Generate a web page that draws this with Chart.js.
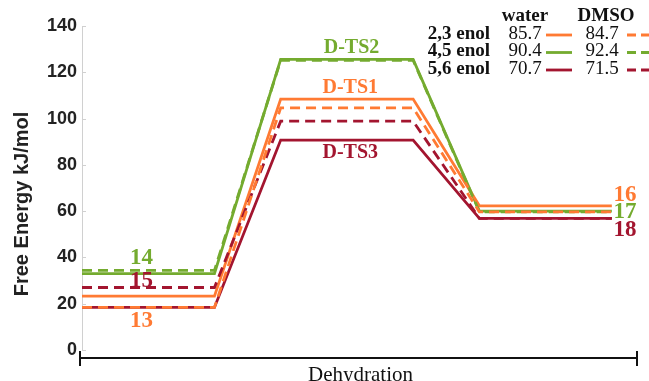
<!DOCTYPE html>
<html>
<head>
<meta charset="utf-8">
<script src="https://cdn.jsdelivr.net/npm/chart.js@4.4.1/dist/chart.umd.min.js"></script>
<style>
  html, body { margin: 0; padding: 0; background: #fff; }
  #wrap { width: 649px; height: 381px; position: relative; }
</style>
</head>
<body>
<div id="wrap"><canvas id="c" width="649" height="381"></canvas></div>
<script>
// ---- data ----
const stageX = [0, 2, 3, 5, 6, 8];            // reaction coordinate: reactant plateau, TS plateau, product plateau
const water23 = [23.3, 108.4, 62.3];          // [reactant, TS, product] kJ/mol
const dmso23  = [18.4, 104.6, 59.7];
const water45 = [33.0, 125.6, 60.0];
const dmso45  = [34.4, 125.2, 59.7];
const water56 = [18.4, 90.7, 56.9];
const dmso56  = [27.0, 98.9, 56.9];
const legendRows = ['2,3 enol', '4,5 enol', '5,6 enol'];
const waterBarriers = ['85.7', '90.4', '70.7'];
const dmsoBarriers  = ['84.7', '92.4', '71.5'];
const yTicks = [0, 20, 40, 60, 80, 100, 120, 140];
const xAxisLabel = 'Dehydration';
const yAxisLabel = 'Free Energy kJ/mol';

const ORANGE = '#ff7a33', GREEN = '#74ab2f', MAROON = '#a3152f';

function profile(levels) {
  const ys = [levels[0], levels[0], levels[1], levels[1], levels[2], levels[2]];
  return stageX.map((x, i) => ({ x: x, y: ys[i] }));
}

const stateLabels = [
  { text: '14', x: 0.9, y: 39.7, color: GREEN },
  { text: '15', x: 0.9, y: 29.6, color: MAROON },
  { text: '13', x: 0.9, y: 12.6, color: ORANGE },
  { text: 'D-TS2', x: 4.07, y: 130.6, color: GREEN },
  { text: 'D-TS1', x: 4.05, y: 113.4, color: ORANGE },
  { text: 'D-TS3', x: 4.05, y: 85.0, color: MAROON },
  { text: '16', x: 8.2, y: 67.0, color: ORANGE },
  { text: '17', x: 8.2, y: 59.7, color: GREEN },
  { text: '18', x: 8.2, y: 51.8, color: MAROON }
];

const W = 2.8, DASH = [10, 6];
function ds(label, levels, color, dashed) {
  return {
    label: label, data: profile(levels), borderColor: color, backgroundColor: color,
    borderWidth: W, borderDash: dashed ? DASH : [], pointRadius: 0, fill: false,
    tension: 0, clip: false, order: dashed ? 0 : 1, borderCapStyle: 'butt', borderJoinStyle: 'miter'
  };
}

const overlay = {
  id: 'overlay',
  afterDraw(chart) {
    const ctx = chart.ctx, xs = chart.scales.x, ys = chart.scales.y, ca = chart.chartArea;
    ctx.save();
    // inward y ticks
    ctx.strokeStyle = '#d0d0d0'; ctx.lineWidth = 1;
    yTicks.forEach(v => {
      const py = Math.round(ys.getPixelForValue(v)) + 0.5;
      ctx.beginPath(); ctx.moveTo(ca.left, py); ctx.lineTo(ca.left + 4, py); ctx.stroke();
    });
    // black x axis with end caps
    const axY = ys.getPixelForValue(0) + 8;
    ctx.strokeStyle = '#111'; ctx.lineWidth = 2;
    ctx.beginPath(); ctx.moveTo(ca.left - 2, axY); ctx.lineTo(ca.right, axY); ctx.stroke();
    ctx.beginPath(); ctx.moveTo(ca.left - 2, axY - 7); ctx.lineTo(ca.left - 2, axY + 8); ctx.stroke();
    ctx.beginPath(); ctx.moveTo(ca.right, axY - 7); ctx.lineTo(ca.right, axY + 8); ctx.stroke();
    ctx.fillStyle = '#111'; ctx.font = '21px "Liberation Serif", "Times New Roman", serif';
    ctx.textAlign = 'center'; ctx.textBaseline = 'alphabetic';
    ctx.fillText(xAxisLabel, (ca.left + ca.right) / 2 + 1, 381);
    // y axis title
    ctx.save();
    ctx.translate(22, 204); ctx.rotate(-Math.PI / 2);
    ctx.fillStyle = '#222'; ctx.font = 'bold 20px "Liberation Sans", Arial, sans-serif';
    ctx.textAlign = 'center'; ctx.textBaseline = 'middle';
    ctx.fillText(yAxisLabel, 0, 0);
    ctx.restore();
    // state labels
    ctx.textAlign = 'center'; ctx.textBaseline = 'middle';
    stateLabels.forEach(l => {
      ctx.fillStyle = l.color;
      ctx.font = (l.text.length > 2 ? 'bold 20px' : 'bold 23px') + ' "Liberation Serif", "Times New Roman", serif';
      ctx.fillText(l.text, xs.getPixelForValue(l.x), ys.getPixelForValue(l.y));
    });
    // legend table
    const colors = [ORANGE, GREEN, MAROON];
    const rowY = [34, 51.5, 69];
    ctx.fillStyle = '#111';
    ctx.font = 'bold 19px "Liberation Serif", "Times New Roman", serif';
    ctx.textAlign = 'center';
    ctx.fillText('water', 525, 16);
    ctx.fillText('DMSO', 606, 16);
    legendRows.forEach((name, i) => {
      const y = rowY[i];
      ctx.fillStyle = '#111';
      ctx.font = 'bold 19px "Liberation Serif", "Times New Roman", serif';
      ctx.textAlign = 'right';
      ctx.fillText(name, 490, y);
      ctx.font = '19px "Liberation Serif", "Times New Roman", serif';
      ctx.textAlign = 'center';
      ctx.fillText(waterBarriers[i], 525, y);
      ctx.fillText(dmsoBarriers[i], 602, y);
      ctx.strokeStyle = colors[i]; ctx.lineWidth = W;
      ctx.setLineDash([]);
      ctx.beginPath(); ctx.moveTo(546, y + 1); ctx.lineTo(572, y + 1); ctx.stroke();
      ctx.setLineDash([9, 5]);
      ctx.beginPath(); ctx.moveTo(627, y + 1); ctx.lineTo(655, y + 1); ctx.stroke();
      ctx.setLineDash([]);
    });
    ctx.restore();
  }
};

new Chart(document.getElementById('c'), {
  type: 'line',
  data: {
    datasets: [
      ds('2,3 enol water', water23, ORANGE, false),
      ds('2,3 enol DMSO', dmso23, ORANGE, true),
      ds('4,5 enol water', water45, GREEN, false),
      ds('4,5 enol DMSO', dmso45, GREEN, true),
      ds('5,6 enol water', water56, MAROON, false),
      ds('5,6 enol DMSO', dmso56, MAROON, true)
    ]
  },
  options: {
    responsive: false, animation: false, devicePixelRatio: 1,
    layout: { padding: { left: 0, right: 12, top: 26, bottom: 31 } },
    plugins: { legend: { display: false }, tooltip: { enabled: false }, title: { display: false } },
    scales: {
      x: { type: 'linear', min: 0, max: 8.38, display: false },
      y: {
        type: 'linear', min: 0, max: 140,
        afterFit(scale) { scale.width = 82; },
        afterBuildTicks(scale) { scale.ticks = yTicks.map(v => ({ value: v })); },
        grid: { display: false, drawTicks: false },
        border: { display: true, color: '#d0d0d0', width: 1 },
        ticks: { padding: 5, color: '#222', font: { family: '"Liberation Sans", Arial, sans-serif', size: 18, weight: 'bold' } }
      }
    }
  },
  plugins: [overlay]
});
</script>
</body>
</html>
